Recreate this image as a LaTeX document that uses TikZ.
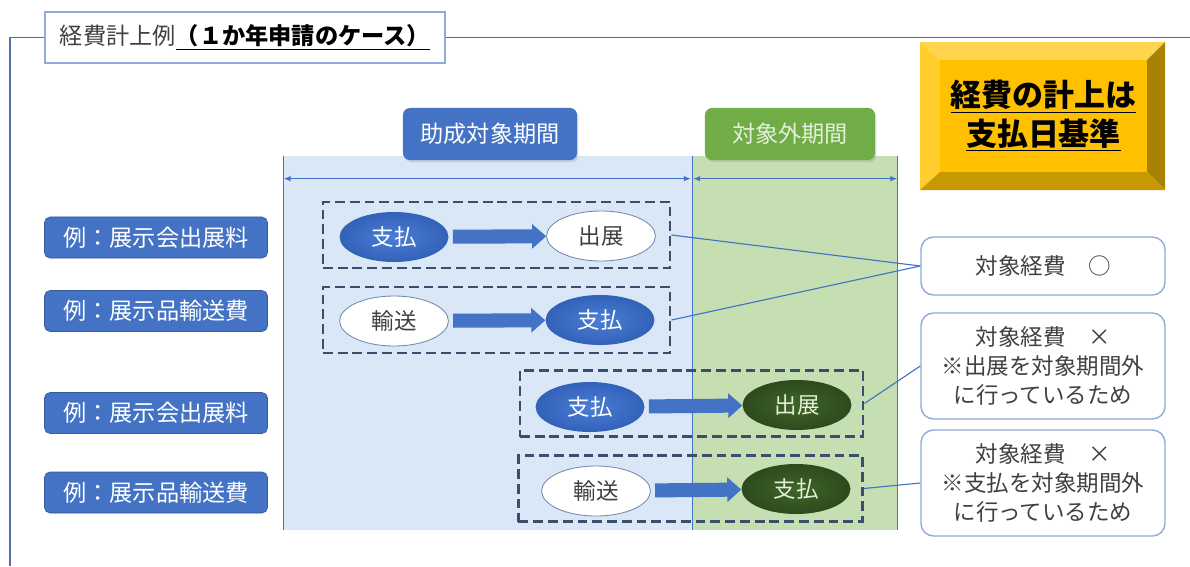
\documentclass[tikz,border=0pt]{standalone}
\usepackage{fontspec}
\setmainfont{Noto Sans CJK JP}
\usetikzlibrary{arrows.meta}
\usetikzlibrary{calc}
\usetikzlibrary{shapes.geometric}
\usetikzlibrary{shadows}

\definecolor{hdrblue}{HTML}{4472C4}
\definecolor{hdrgreen}{HTML}{70AD47}
\definecolor{zoneblue}{HTML}{DAE7F7}
\definecolor{zonegreen}{HTML}{C5DFB3}
\definecolor{lineblue}{HTML}{4472C4}
\definecolor{dashgray}{HTML}{3B4E6E}
\definecolor{textgray}{HTML}{404040}
\definecolor{framegray}{HTML}{8FAADC}
\definecolor{framedark}{HTML}{4F6FA8}
\definecolor{lightgreen}{HTML}{E2F0D9}
\definecolor{ellblue}{HTML}{4C7ED6}
\definecolor{ellblueedge}{HTML}{3261B8}
\definecolor{ellgreen}{HTML}{3F6528}
\definecolor{ellgreenedge}{HTML}{2D4A1D}
\definecolor{goldface}{HTML}{FFC000}
\definecolor{goldtop}{HTML}{FFD54D}
\definecolor{goldleft}{HTML}{FFCD2E}
\definecolor{goldright}{HTML}{A88200}
\definecolor{goldbottom}{HTML}{C89800}

\tikzset{
  zone/.style={rectangle, inner sep=0pt, minimum height=9.35cm},
  edge/.style={draw=lineblue, line width=0.8pt},
  span/.style={draw=lineblue, line width=0.8pt,
    {Latex[length=5pt,width=4pt]}-{Latex[length=5pt,width=4pt]}},
  header/.style={rectangle, rounded corners=5pt, minimum height=1.3cm,
    text=white, font=\fontsize{16.5}{20}\selectfont,
    drop shadow={opacity=0.25, shadow xshift=1pt, shadow yshift=-1.5pt}},
  titlebox/.style={rectangle, draw=framegray, line width=0.8pt, fill=white,
    minimum width=10cm, minimum height=1.275cm, font=\fontsize{16.5}{20}\selectfont},
  frame/.style={draw=framedark, line width=0.8pt},
  badge/.style={align=center, font=\fontsize{22}{27.5}\selectfont\bfseries},
  example/.style={rectangle, rounded corners=4pt, fill=hdrblue, draw=hdrblue!80!black,
    line width=0.5pt, minimum width=5.575cm, minimum height=1.025cm,
    text=white, font=\fontsize{16.5}{20}\selectfont},
  group/.style={draw=dashgray, line width=2pt, dash pattern=on 7pt off 3.5pt,
    minimum height=1.65cm, inner sep=0pt},
  event/.style={ellipse, minimum width=2.72cm, minimum height=1.25cm, inner sep=0pt,
    font=\fontsize{16}{20}\selectfont},
  paid/.style={shade, inner color=ellblue, outer color=ellblueedge, text=white},
  late/.style={shade, inner color=ellgreen, outer color=ellgreenedge, text=lightgreen},
  plain/.style={fill=white, draw=framegray!80!black, line width=0.6pt, text=textgray},
  flow/.style={draw=hdrblue, line width=10pt, shorten <=3pt,
    -{Triangle[length=10pt,width=17pt]}},
  result/.style={rectangle, rounded corners=9pt, draw=framegray, line width=1pt,
    fill=white, minimum width=6.1cm, align=center, text=textgray,
    font=\fontsize{16}{20.5}\selectfont},
  link/.style={draw=lineblue, line width=0.8pt}
}

\begin{document}
\begin{tikzpicture}[x=0.025cm, y=-0.025cm]

  \useasboundingbox (0,0) rectangle (1190,566);

  % Periods
  \node[zone, fill=zoneblue, minimum width=10.2cm] (inzone) at (488,343) {};
  \node[zone, fill=zonegreen, minimum width=5.125cm] (outzone) at (794.5,343) {};

  \draw[edge] (inzone.north west) -- (inzone.south west);
  \draw[edge] (inzone.north east) -- (inzone.south east);
  \draw[edge] (outzone.north east) -- (outzone.south east);

  \coordinate (spanA) at ($(inzone.north west)+(0,23)$);
  \coordinate (spanB) at ($(inzone.north east)+(-1.5,23)$);
  \coordinate (spanC) at ($(outzone.north west)+(1.5,23)$);
  \coordinate (spanD) at ($(outzone.north east)+(0,23)$);
  \draw[span] (spanA) -- (spanB);
  \draw[span] (spanC) -- (spanD);

  \node[header, fill=hdrblue, minimum width=4.35cm] (inhdr) at (490,134) {助成対象期間};
  \node[header, fill=hdrgreen, minimum width=4.25cm, text=lightgreen] (outhdr) at (790,134) {対象外期間};

  % Title and frame
  \node[titlebox] (title) at (245,37.5)
    {{\color{textgray}経費計上例}\textbf{\underline{（１か年申請のケース）}}};
  \draw[frame] (title.west) -- (10,37.5) -- (10,566);
  \draw[frame] (title.east) -- (1190,37.5);

  % Bevelled badge
  \fill[goldtop] (920,42) -- (1165,42) -- (1147,60) -- (940,60) -- cycle;
  \fill[goldleft] (920,42) -- (940,60) -- (940,172) -- (920,190) -- cycle;
  \fill[goldright] (1165,42) -- (1165,190) -- (1147,172) -- (1147,60) -- cycle;
  \fill[goldbottom] (920,190) -- (1165,190) -- (1147,172) -- (940,172) -- cycle;
  \fill[goldface] (940,60) rectangle (1147,172);
  \node[badge] (rule) at (1043.5,116) {\underline{経費の計上は}\\\underline{支払日基準}};

  % Examples
  \node[example] (ex1) at (156,237.5) {例：展示会出展料};
  \node[example] (ex2) at (156,311) {例：展示品輸送費};
  \node[example] (ex3) at (156,413) {例：展示会出展料};
  \node[example] (ex4) at (156,492.5) {例：展示品輸送費};

  % Groups
  \node[group, minimum width=8.675cm] (grp1) at (496.5,235) {};
  \node[group, minimum width=8.675cm] (grp2) at (496.5,320) {};
  \node[group, minimum width=8.575cm] (grp3) at (691.5,403.5) {};
  \node[group, minimum width=8.6cm] (grp4) at (690.5,488.5) {};

  % Events
  \node[event, paid] (pay1) at (394,237) {支払};
  \node[event, plain] (show1) at (601,236) {出展};
  \node[event, plain] (ship2) at (394,321) {輸送};
  \node[event, paid] (pay2) at (600,320) {支払};
  \node[event, paid] (pay3) at (590,407) {支払};
  \node[event, late] (show3) at (797,405) {出展};
  \node[event, plain] (ship4) at (596,491) {輸送};
  \node[event, late] (pay4) at (796,489) {支払};

  \draw[flow] (pay1) -- (show1);
  \draw[flow] (ship2) -- (pay2);
  \draw[flow] (pay3) -- (show3);
  \draw[flow] (ship4) -- (pay4);

  % Results
  \node[result, minimum height=1.45cm] (ok) at (1043,266) {対象経費　○};
  \node[result, minimum height=2.65cm] (ng1) at (1043,366)
    {対象経費　×\\※出展を対象期間外\\に行っているため};
  \node[result, minimum height=2.65cm] (ng2) at (1043,483)
    {対象経費　×\\※支払を対象期間外\\に行っているため};

  \draw[link] (grp1.east) -- (ok.west);
  \draw[link] (grp2.east) -- (ok.west);
  \draw[link] (grp3.east) -- (ng1.west);
  \draw[link] (grp4.east) -- (ng2.west);

\end{tikzpicture}
\end{document}
